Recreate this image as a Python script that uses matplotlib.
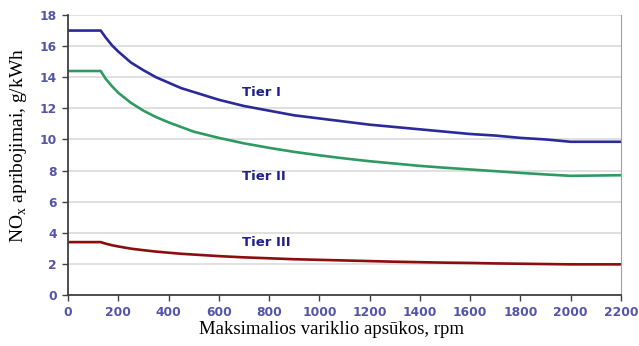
import matplotlib
matplotlib.use("Agg")
import matplotlib.pyplot as plt

rpm = [0, 130, 150, 175, 200, 250, 300, 350, 400, 450, 500, 600, 700, 800, 900,
       1000, 1100, 1200, 1300, 1400, 1500, 1600, 1700, 1800, 1900, 2000, 2200]
tier1 = [17.0, 17.0, 16.55, 16.05, 15.65, 14.95, 14.45, 14.0, 13.65, 13.3, 13.05,
         12.55, 12.15, 11.85, 11.55, 11.35, 11.15, 10.95, 10.8, 10.65, 10.5, 10.35,
         10.25, 10.1, 10.0, 9.85, 9.85]
tier2 = [14.4, 14.4, 13.9, 13.42, 13.0, 12.36, 11.85, 11.44, 11.1, 10.8, 10.5,
         10.1, 9.75, 9.46, 9.2, 8.98, 8.78, 8.6, 8.45, 8.3, 8.18, 8.07, 7.96, 7.85,
         7.75, 7.66, 7.7]
tier3 = [3.4, 3.4, 3.3, 3.2, 3.12, 2.98, 2.88, 2.79, 2.72, 2.65, 2.6, 2.5, 2.42,
         2.36, 2.3, 2.26, 2.22, 2.18, 2.14, 2.11, 2.08, 2.06, 2.03, 2.01, 1.99, 1.97,
         1.97]
labels = ["Tier I", "Tier II", "Tier III"]
label_pos = [(692, 13.0), (692, 7.65), (692, 3.35)]
xticks = list(range(0, 2201, 200))
yticks = list(range(0, 19, 2))

W, H = 639, 346
fig = plt.figure(figsize=(W / 100, H / 100), dpi=100)
ax = fig.add_axes([68 / W, (H - 295) / H, 553 / W, 280 / H])

colors = ["#2a2a98", "#2e9a62", "#8b0d0d"]
for y, c in zip([tier1, tier2, tier3], colors):
    ax.plot(rpm, y, color=c, lw=1.9, solid_joinstyle="round")

for (lx, ly), t in zip(label_pos, labels):
    ax.text(lx, ly, t, color="#20208c", fontsize=9.5, fontweight="bold",
            family="DejaVu Sans", ha="left", va="center")

ax.set_xlim(0, 2200)
ax.set_ylim(0, 18)
ax.set_xticks(xticks)
ax.set_yticks(yticks)
ax.grid(axis="y", color="#dddddd", lw=1.3)
ax.set_axisbelow(True)
for lab in ax.get_xticklabels() + ax.get_yticklabels():
    lab.set_fontweight("bold")
    lab.set_family("DejaVu Sans")
    lab.set_fontsize(8.8)
    lab.set_color("#5454aa")
ax.tick_params(direction="out", length=4, width=1, color="#404040")
ax.tick_params(axis="x", pad=4)
ax.tick_params(axis="y", pad=4)
for s in ["left", "bottom"]:
    ax.spines[s].set_color("#404040")
    ax.spines[s].set_linewidth(1.3)
ax.spines["top"].set_visible(False)
ax.spines["right"].set_color("#a0a0a0")

fig.text(332 / W, 1 - 330 / H, "Maksimalios variklio apsūkos, rpm",
         family="Liberation Serif", fontsize=13.5, ha="center", va="center")
fig.text(19 / W, 1 - 145 / H, r"NO$_\mathregular{x}$ apribojimai, g/kWh",
         family="Liberation Serif", fontsize=14, ha="center", va="center",
         rotation=90)

fig.savefig("out.png", dpi=100)
